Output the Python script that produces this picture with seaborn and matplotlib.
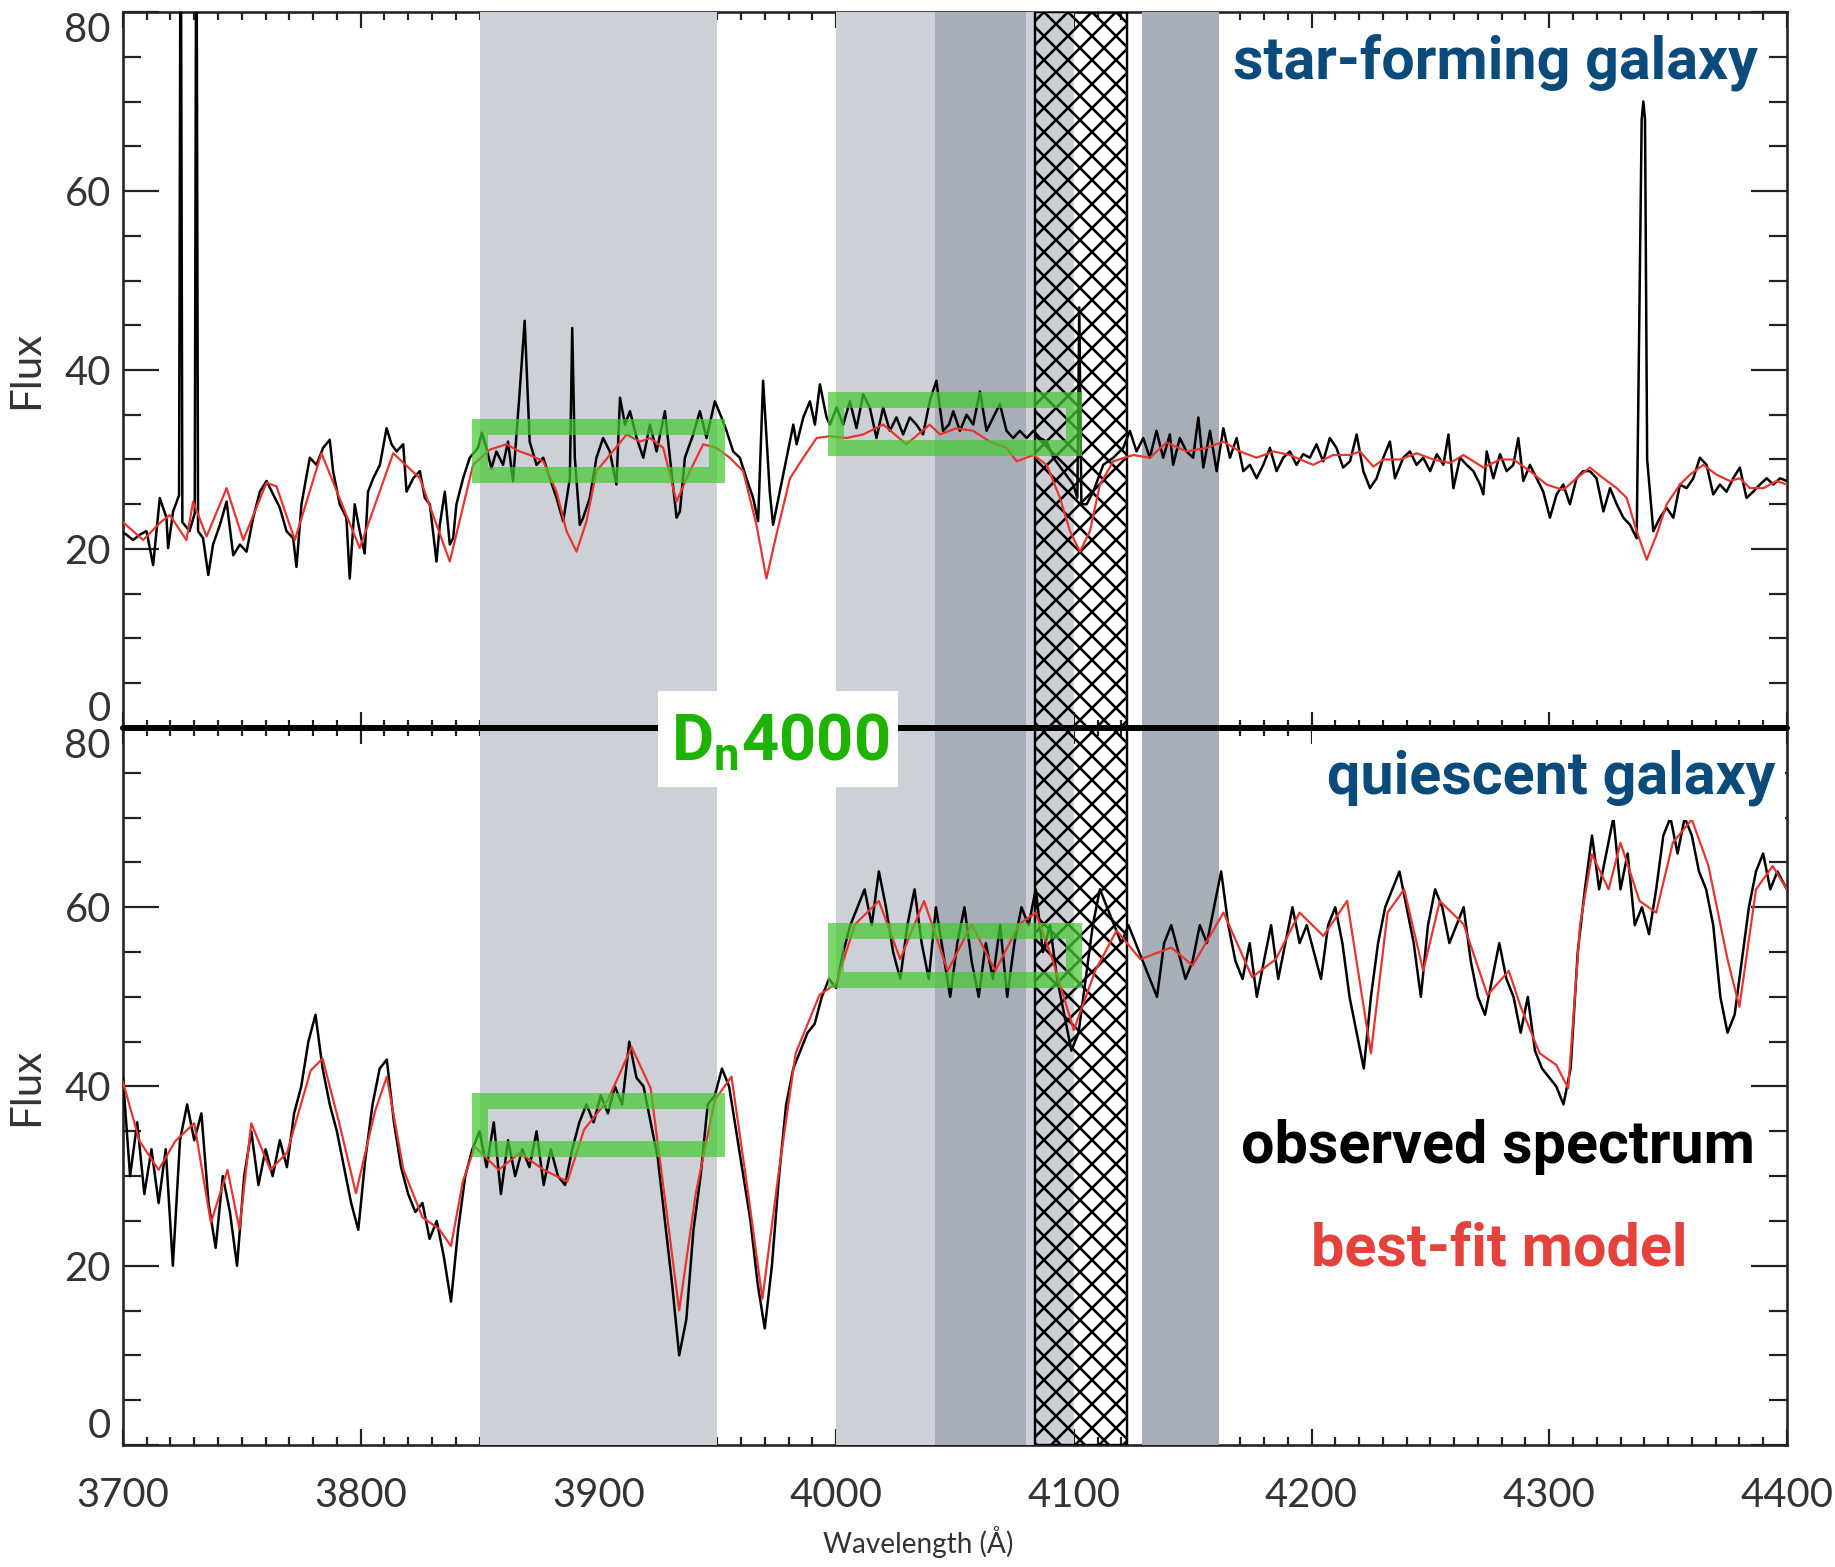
import numpy as np
import pandas as pd
import matplotlib
matplotlib.use("Agg")
import matplotlib.pyplot as plt
from matplotlib.patches import Rectangle
from matplotlib.ticker import MultipleLocator
import seaborn as sns

# ---------------- data (wavelength in Angstrom, flux) ----------------
TOP_OBS = [(3698.7,22.0),(3701.5,21.6),(3704.3,21.0),(3707.1,21.6),(3709.9,22.0),(3712.7,18.2),(3715.5,25.7),(3718.3,23.5),
(3719.0,20.1),(3721.1,24.2),(3723.6,26.0),(3724.3,100),(3725.0,23.0),(3728.0,22.0),(3730.2,24.0),(3730.9,100),
(3731.6,22.0),(3733.7,21.2),(3735.9,17.1),(3737.9,20.5),(3740.8,22.7),(3743.6,25.3),(3746.4,19.3),(3749.2,20.5),
(3752.0,19.7),(3754.8,23.5),(3757.6,26.4),(3760.4,27.6),(3763.2,26.1),(3766.0,24.6),(3768.8,22.0),(3771.6,21.2),(3773.0,18.0),
(3775.1,25.0),(3778.6,30.2),(3781.4,29.4),(3784.2,31.3),(3787.0,32.2),(3788.4,28.7),(3791.2,25.0),(3794.0,23.5),(3795.4,16.7),
(3797.5,25.0),(3799.6,22.0),(3801.7,19.5),(3803.1,26.4),(3805.3,27.9),(3808.1,29.4),(3810.9,33.5),(3813.0,31.7),(3815.1,30.9),
(3817.9,31.7),(3819.3,26.4),(3822.1,27.9),(3824.9,28.7),(3827.0,25.7),(3829.1,25.0),(3831.9,18.6),(3833.3,22.7),(3835.4,26.4),
(3837.5,20.5),(3838.9,21.2),(3840.3,25.0),(3843.1,27.9),(3845.9,30.2),(3849.4,31.3),(3851.0,33.0),(3852.9,31.3),(3855.0,29.0),
(3857.1,30.9),(3859.9,29.4),(3862.0,32.0),(3864.1,27.6),(3866.9,37.6),(3869.0,45.5),(3871.1,32.0),(3874.0,29.4),(3876.8,30.2),
(3879.6,27.9),(3882.4,25.7),(3885.2,23.1),(3888.0,27.9),(3889.0,44.7),(3890.1,30.2),(3892.2,22.7),(3893.6,23.5),(3896.4,25.7),
(3899.2,30.2),(3902.0,32.4),(3904.8,30.9),(3907.6,27.2),(3909.1,36.9),(3911.2,33.9),(3913.3,35.4),(3916.1,32.4),(3918.9,30.2),
(3921.7,33.9),(3924.5,30.9),(3928.0,35.4),(3930.1,30.2),(3932.9,23.5),(3934.3,24.2),(3936.4,30.2),(3939.9,32.8),(3942.7,35.4),
(3945.5,32.4),(3949.0,36.5),(3951.8,34.7),(3953.9,33.2),(3956.7,30.9),(3959.5,30.2),(3962.3,27.9),(3965.1,25.7),(3967.2,23.1),
(3969.3,38.8),(3972.1,26.4),(3973.5,22.7),(3976.3,26.4),(3979.2,30.2),(3982.0,33.9),(3983.4,31.7),(3986.2,34.7),(3989.0,36.5),
(3991.1,33.9),(3993.2,38.4),(3996.0,34.7),(3997.4,33.9),(4000.2,35.8),(4003.0,33.9),(4005.8,36.5),(4008.6,33.5),(4011.4,37.3),
(4014.2,35.8),(4017.0,32.4),(4019.8,35.8),(4022.6,33.2),(4025.4,34.7),(4028.2,32.8),(4031.0,34.7),(4033.8,33.9),(4036.6,32.8),
(4039.4,36.5),(4042.2,38.8),(4045.0,33.2),(4047.5,33.9),(4049.3,35.4),(4052.1,33.2),(4054.9,35.0),(4057.7,33.9),(4060.5,37.6),
(4063.3,33.2),(4066.1,34.7),(4068.9,36.2),(4071.7,33.2),(4074.5,32.4),(4077.3,33.2),(4080.2,32.4),(4083.0,33.2),(4085.8,32.4),
(4088.6,32.0),(4091.4,30.2),(4095.6,28.7),(4099.8,27.2),(4101.5,25.7),(4102.3,47.0),(4103.2,25.0),(4105.4,25.0),(4108.2,26.4),
(4112.4,29.4),(4116.6,30.2),(4120.8,31.3),(4123.6,33.2),(4126.4,30.9),(4129.2,32.4),(4132.0,30.2),(4134.8,33.2),(4137.6,30.2),
(4140.4,32.8),(4141.8,29.4),(4144.6,32.4),(4147.4,30.9),(4150.2,30.2),(4152.4,34.7),(4154.5,29.1),(4157.3,33.2),(4160.1,28.7),
(4162.9,33.5),(4165.7,30.2),(4168.5,32.4),(4171.3,28.7),(4174.1,29.4),(4176.9,27.9),(4179.7,29.4),(4182.5,31.3),(4185.3,28.7),
(4188.1,30.2),(4190.9,30.9),(4193.7,29.4),(4196.5,30.6),(4199.3,30.2),(4202.1,31.7),(4204.9,29.8),(4207.7,32.4),(4210.5,31.3),
(4213.3,29.1),(4216.2,29.8),(4219.0,32.8),(4221.8,28.7),(4224.6,26.8),(4227.4,27.9),(4230.2,30.2),(4233.0,32.0),(4235.1,27.9),
(4238.6,30.2),(4241.4,30.9),(4244.2,29.4),(4247.0,30.2),(4249.9,28.7),(4252.7,30.6),(4255.5,29.4),(4257.6,32.8),(4259.7,26.8),
(4262.5,30.2),(4265.3,29.4),(4268.1,28.7),(4270.9,27.2),(4272.3,26.1),(4273.7,30.9),(4276.5,27.9),(4279.3,30.6),(4282.1,28.7),
(4284.9,29.4),(4287.0,32.4),(4289.1,27.6),(4291.9,29.4),(4294.7,27.9),(4297.5,26.4),(4300.3,23.5),(4303.1,26.1),(4305.9,27.2),
(4308.7,25.0),(4311.5,27.9),(4314.3,28.7),(4317.1,28.7),(4319.9,27.9),(4322.8,24.2),(4325.6,26.8),(4328.4,25.0),(4331.2,23.5),
(4334.0,22.7),(4336.8,21.2),(4338.9,68.0),(4339.6,70.0),(4340.3,68.0),(4341.2,30.0),(4343.8,22.0),(4346.6,23.5),(4349.4,24.6),
(4352.2,23.5),(4355.0,27.2),(4357.8,26.8),(4360.6,27.9),(4363.4,30.2),(4366.2,29.4),(4369.0,26.1),(4371.8,27.2),(4374.6,26.4),
(4377.4,27.9),(4380.2,29.1),(4383.0,25.7),(4385.8,26.4),(4388.6,27.2),(4391.5,27.9),(4394.3,27.2),(4397.1,27.9),(4400.0,27.6)]

TOP_MODEL = [(3698.7,23.3),(3708.5,21.0),(3715.5,22.9),(3719.7,23.8),(3726.7,21.0),(3729.5,25.3),(3735.2,21.4),(3743.6,26.8),
(3750.6,21.0),(3760.4,27.4),(3764.6,27.0),(3772.3,21.0),(3783.5,30.7),(3799.6,20.1),(3813.7,30.7),(3824.9,27.9),(3837.5,18.6),
(3847.3,29.4),(3854.3,31.1),(3861.3,31.7),(3866.9,30.9),(3871.2,30.5),(3876.8,29.8),(3882.4,26.4),(3886.6,22.0),(3890.8,19.7),
(3895.0,23.1),(3899.2,28.7),(3904.8,30.5),(3911.9,32.8),(3917.5,32.0),(3921.7,32.4),(3927.3,31.3),(3932.9,25.3),(3938.5,28.7),
(3944.1,31.7),(3949.7,31.3),(3955.3,30.2),(3960.9,28.7),(3966.5,22.7),(3970.7,16.7),(3974.9,21.6),(3980.6,27.9),(3986.2,30.2),
(3991.8,32.4),(3997.4,32.6),(4004.4,32.4),(4011.4,32.8),(4019.8,33.9),(4029.6,31.7),(4039.4,33.9),(4043.7,32.8),(4050.7,33.5),
(4057.7,33.2),(4064.7,32.0),(4071.7,31.3),(4076.0,29.8),(4083.0,30.5),(4088.6,29.4),(4094.2,25.7),(4098.4,22.0),(4102.6,19.7),
(4106.8,22.0),(4111.0,27.2),(4116.6,29.8),(4125.0,30.5),(4132.0,30.2),(4139.0,31.9),(4147.4,30.9),(4155.9,31.3),(4162.9,32.0),
(4169.9,30.9),(4176.9,30.2),(4183.9,30.9),(4190.9,30.5),(4200.7,29.4),(4209.1,30.5),(4216.2,30.5),(4220.4,30.9),(4226.0,29.2),
(4230.2,30.0),(4237.2,30.0),(4244.2,30.7),(4251.3,30.0),(4258.3,29.6),(4263.9,30.5),(4272.3,29.1),(4279.3,30.0),(4284.9,30.0),
(4291.9,28.7),(4298.9,27.2),(4305.9,26.6),(4311.5,27.9),(4317.1,29.1),(4322.8,27.9),(4328.4,26.8),(4332.6,25.7),(4336.8,22.0),
(4341.0,18.8),(4345.2,21.6),(4349.4,25.0),(4355.0,27.2),(4359.2,28.3),(4364.8,29.4),(4370.4,28.3),(4376.0,27.6),(4380.2,27.9),
(4384.4,26.8),(4390.1,26.8),(4395.7,27.6),(4400.0,27.2)]

BOT_OBS = [(3700,41),(3703,30),(3706,36),(3709,28),(3712,33),(3715,27),(3718,33),(3721,20),(3724,34),(3727,38),(3730,34),(3733,37),
(3736,27),(3739,22),(3742,30),(3745,26),(3748,20),(3751,30),(3754,35),(3757,29),(3760,33),(3763,30),(3766,34),(3769,31),(3772,37),
(3775,40),(3778,45),(3781,48),(3784,42),(3787,38),(3790,35),(3793,31),(3796,27),(3799,24),(3802,32),(3805,38),(3808,42),(3811,43),
(3814,36),(3817,31),(3820,28),(3823,26),(3826,27),(3829,23),(3832,25),(3835,21),(3838,16),(3841,24),(3844,30),(3847,33),(3850,35),
(3853,31),(3856,36),(3859,28),(3862,34),(3865,30),(3868,33),(3871,31),(3874,35),(3877,29),(3880,33),(3883,30),(3886,29),(3889,33),
(3892,36),(3895,38),(3898,36),(3901,39),(3904,37),(3907,40),(3910,38),(3913,45),(3916,41),(3919,40),(3922,36),(3925,32),(3928,25),
(3931,18),(3934,10),(3937,14),(3940,24),(3943,30),(3946,38),(3949,39),(3952,42),(3955,40),(3958,35),(3961,30),(3964,25),(3967,18),
(3970,13),(3973,20),(3976,30),(3979,38),(3982,42),(3985,44),(3988,46),(3991,47),(3994,50),(3997,52),(4000,51),(4003,55),(4006,58),
(4009,60),(4012,62),(4015,58),(4018,64),(4021,60),(4024,55),(4027,52),(4030,58),(4033,62),(4036,56),(4039,52),(4042,60),(4045,55),
(4048,50),(4051,56),(4054,60),(4057,54),(4060,50),(4063,56),(4066,52),(4069,58),(4072,50),(4075,56),(4078,60),(4081,58),(4084,62),
(4087,55),(4090,58),(4093,52),(4096,48),(4099,44),(4102,46),(4105,52),(4108,58),(4111,62),(4114,60),(4117,58),(4120,56),(4123,58),
(4126,56),(4129,54),(4132,52),(4135,50),(4138,56),(4141,58),(4144,55),(4147,52),(4150,54),(4153,58),(4156,56),(4159,60),(4162,64),
(4165,58),(4168,54),(4171,52),(4174,56),(4177,50),(4180,54),(4183,58),(4186,52),(4189,56),(4192,60),(4195,56),(4198,58),(4201,55),
(4204,52),(4207,58),(4210,60),(4213,56),(4216,50),(4219,46),(4222,42),(4225,50),(4228,56),(4231,60),(4234,62),(4237,64),(4240,60),
(4243,56),(4246,50),(4249,58),(4252,62),(4255,60),(4258,56),(4261,58),(4264,60),(4267,54),(4270,50),(4273,48),(4276,52),(4279,56),
(4282,52),(4285,50),(4288,46),(4291,50),(4294,44),(4297,42),(4300,41),(4303,40),(4306,38),(4309,42),(4312,55),(4315,62),(4318,68),
(4321,62),(4324,66),(4327,70),(4330,62),(4333,66),(4336,58),(4339,60),(4342,57),(4345,62),(4348,68),(4351,70),(4354,66),(4357,70),
(4360,68),(4363,64),(4366,62),(4369,58),(4372,50),(4375,46),(4378,48),(4381,54),(4384,60),(4387,64),(4390,66),(4393,62),(4396,64),
(4400,62)]

BOT_MODEL = [(3700,40.5),(3707,33.9),(3715,30.7),(3722,33.9),(3730,35.9),(3737,24.8),(3744,30.7),(3749,24.1),(3754,35.9),(3762,30.7),
(3769,32.6),(3779,41.8),(3784,43.1),(3791,35.9),(3798,28.1),(3806,37.2),(3811,41.1),(3818,30.7),(3826,25.4),(3833,24.1),(3838,22.2),
(3843,29.4),(3848,33.3),(3858,30.7),(3867,32.6),(3877,30.7),(3887,29.4),(3894,35.2),(3904,38.5),(3914,44.4),(3922,39.8),(3929,25.4),
(3934,15.0),(3941,28.1),(3949,38.5),(3956,41.1),(3963,28.1),(3969,16.3),(3976,30.7),(3983,43.7),(3993,50.2),(4000,51.5),(4008,58.1),
(4018,60.7),(4027,54.2),(4037,60.7),(4047,52.9),(4057,58.1),(4067,52.9),(4077,58.1),(4084,59.4),(4091,54.2),(4100,46.3),(4109,52.9),
(4118,57.4),(4128,54.2),(4141,55.5),(4150,53.5),(4163,59.4),(4175,52.2),(4185,54.2),(4195,59.4),(4205,56.8),(4215,60.7),(4225,43.7),
(4232,59.4),(4239,62.0),(4247,52.9),(4254,60.7),(4264,58.1),(4274,50.2),(4283,52.9),(4288,48.9),(4296,43.7),(4303,42.4),(4308,39.8),
(4313,58.1),(4318,65.9),(4325,62.0),(4330,67.2),(4338,60.7),(4345,59.4),(4352,67.2),(4360,69.8),(4367,64.6),(4375,54.2),(4380,48.9),
(4387,62.0),(4394,64.6),(4400,62.0)]

# spectral windows (Angstrom)
DN_BANDS = [(3850.0, 3950.0), (4000.0, 4100.0)]            # Dn4000 blue / red windows
HDA_CONT = [(4041.60, 4079.75), (4128.50, 4161.00)]         # H-delta_A continua
HDA_FEATURE = (4083.50, 4122.25)                            # H-delta_A feature
# Dn4000 mean-flux boxes: (x0, x1, y0, y1)
TOP_BOXES = [(3850, 3950, 28.3, 33.6), (4000, 4100, 31.3, 36.6)]
BOT_BOXES = [(3850, 3950, 33.0, 38.4), (4000, 4100, 51.9, 57.3)]

# ---------------- style ----------------
sns.set_theme(style="white")
plt.rcParams['font.family'] = ['Lato', 'DejaVu Sans']
plt.rcParams['hatch.linewidth'] = 1.3
plt.rcParams['mathtext.fontset'] = 'custom'
plt.rcParams['mathtext.bf'] = 'Roboto:bold'
plt.rcParams['mathtext.rm'] = 'Roboto'
plt.rcParams['axes.linewidth'] = 1.3

LIGHT = '#CDD1D7'
DARK = '#A7AEB8'
GREEN = '#45C833'
BLUE = '#0A4B7C'
RED = '#E8342C'
TXTRED = '#E4433B'

DPI = 144
fig = plt.figure(figsize=(1835 / DPI, 1567 / DPI), dpi=DPI)
fig.patch.set_facecolor('white')
ax_top = fig.add_axes([0.0670, 0.53542, 0.9068, 0.45692])
ax_bot = fig.add_axes([0.0670, 0.07786, 0.9068, 0.45756])


def draw_panel(ax, obs, model, boxes):
    for lo, hi in DN_BANDS:
        ax.axvspan(lo, hi, color=LIGHT, lw=0, zorder=3)
    for lo, hi in HDA_CONT:
        ax.axvspan(lo, hi, color=DARK, lw=0, zorder=3.05)
    ax.axvspan(HDA_FEATURE[0], HDA_FEATURE[1], facecolor='none', edgecolor='black',
               hatch='xx', lw=1.2, zorder=3.1)
    dfo = pd.DataFrame(obs, columns=['wl', 'flux'])
    dfm = pd.DataFrame(model, columns=['wl', 'flux'])
    sns.lineplot(data=dfo, x='wl', y='flux', ax=ax, color='black', lw=1.25,
                 estimator=None, sort=False, zorder=4)
    sns.lineplot(data=dfm, x='wl', y='flux', ax=ax, color=RED, lw=1.1,
                 estimator=None, sort=False, zorder=5)
    for x0, x1, y0, y1 in boxes:
        ax.add_patch(Rectangle((x0, y0), x1 - x0, y1 - y0, fill=False, edgecolor=GREEN,
                               lw=8, alpha=0.72, joinstyle='miter', zorder=6))
    ax.set_xlim(3700, 4400)
    ax.set_ylim(0, 80)
    ax.xaxis.set_major_locator(MultipleLocator(100))
    ax.xaxis.set_minor_locator(MultipleLocator(10))
    ax.yaxis.set_major_locator(MultipleLocator(20))
    ax.yaxis.set_minor_locator(MultipleLocator(5))
    ax.tick_params(axis='both', which='both', direction='in', top=True, right=True,
                   bottom=True, left=True, colors='#222222', labelcolor='#333333', width=1.1)
    ax.tick_params(axis='x', which='major', length=8, labelsize=20, pad=16)
    ax.tick_params(axis='x', which='minor', length=4)
    ax.tick_params(axis='y', which='major', length=18, labelsize=20, pad=6)
    ax.tick_params(axis='y', which='minor', length=9)
    for s in ax.spines.values():
        s.set_color('#222222')
        s.set_visible(True)
    ax.set_ylabel('Flux', fontsize=21, color='#333333')
    ax.yaxis.set_label_coords(-0.0583, 0.5)
    ax.yaxis.label.set_va('center')
    ax.set_facecolor('white')


draw_panel(ax_top, TOP_OBS, TOP_MODEL, TOP_BOXES)
draw_panel(ax_bot, BOT_OBS, BOT_MODEL, BOT_BOXES)

ax_top.tick_params(axis='x', labelbottom=False)
ax_top.set_xlabel('')
ax_bot.set_xlabel('Wavelength (Å)', fontsize=14, color='#333333')
ax_bot.xaxis.set_label_coords(0.478, -0.135)
ax_bot.xaxis.label.set_va('center')

# end tick labels pulled inside the panel
for ax in (ax_top, ax_bot):
    fig.canvas.draw()
    for t in ax.yaxis.get_major_ticks():
        v = t.get_loc()
        if abs(v - 80) < 1e-6:
            t.label1.set_va('top')
        elif abs(v) < 1e-6:
            t.label1.set_va('bottom')

# divider line between the panels
ax_bot.axhline(80, color='black', lw=3, zorder=8, clip_on=False)

# white box behind "quiescent galaxy"
ax_bot.add_patch(Rectangle((4200, 69.7), 199.3, 10.3, facecolor='white', edgecolor='none', zorder=7))

LABEL_FS = 29.6
ax_top.text(0.9826, 0.930, 'star-forming galaxy', transform=ax_top.transAxes, ha='right', va='center',
            fontsize=LABEL_FS, fontweight='bold', color=BLUE, family='Roboto', zorder=9)
ax_bot.text(0.9928, 0.930, 'quiescent galaxy', transform=ax_bot.transAxes, ha='right', va='center',
            fontsize=LABEL_FS, fontweight='bold', color=BLUE, family='Roboto', zorder=9)
ax_bot.text(0.8263, 0.4156, 'observed spectrum', transform=ax_bot.transAxes, ha='center', va='center',
            fontsize=LABEL_FS, fontweight='bold', color='black', family='Roboto', zorder=9)
ax_bot.text(0.8269, 0.272, 'best-fit model', transform=ax_bot.transAxes, ha='center', va='center',
            fontsize=LABEL_FS, fontweight='bold', color=TXTRED, family='Roboto', zorder=9)

# Dn4000 label on white box across the divider
fig.add_artist(Rectangle((658 / 1835, 1 - 787 / 1567), 240 / 1835, 96 / 1567, transform=fig.transFigure,
                         facecolor='white', edgecolor='none', zorder=10))
fig.text(780 / 1835, 1 - 742 / 1567, r'D$_{\mathbf{n}}$4000', ha='center', va='center', fontsize=32.5,
         fontweight='bold', color='#1DB300', family='Roboto', zorder=11)

fig.savefig('out.png', dpi=DPI, facecolor='white')
